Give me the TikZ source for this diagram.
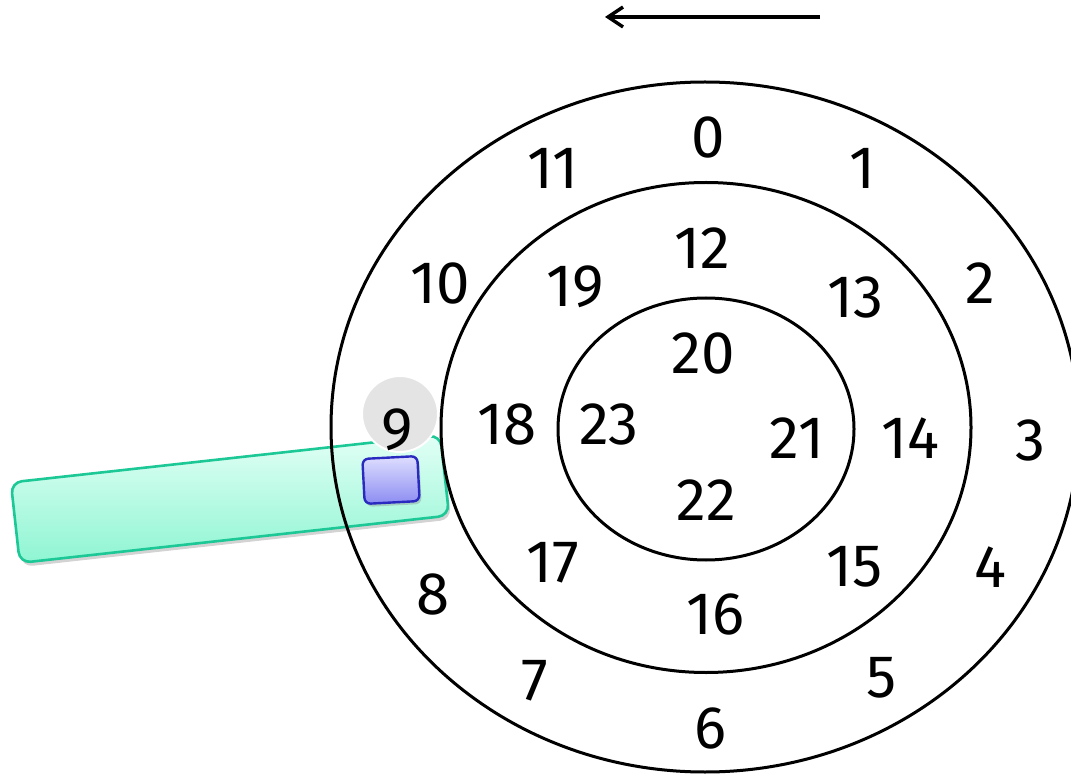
\documentclass[tikz,border=0pt]{standalone}
\usepackage{fontspec}
\setmainfont{Fira Sans}
\usetikzlibrary{arrows.meta,shadows,shapes.geometric}
\definecolor{armedge}{HTML}{1CC896}
\definecolor{armtop}{HTML}{E2FFF6}
\definecolor{armbot}{HTML}{8EF5D2}
\definecolor{sqedge}{HTML}{2A2AC0}
\definecolor{sqtop}{HTML}{DEDEFF}
\definecolor{sqbot}{HTML}{8C8CF2}
\definecolor{headgray}{HTML}{E4E4E4}
\tikzset{
  ring/.style={draw=black,line width=3pt,ellipse,inner sep=0pt},
  num/.style={font=\fontsize{60}{60}\selectfont,inner sep=0pt},
  armbox/.style={draw=armedge,line width=2.6pt,rounded corners=11pt,
    top color=armtop,bottom color=armbot,
    minimum width=432pt,minimum height=81pt,inner sep=0pt,
    drop shadow={opacity=0.35,shadow xshift=2pt,shadow yshift=-4pt}},
  headbox/.style={draw=sqedge,line width=2.4pt,rounded corners=6pt,
    top color=sqtop,bottom color=sqbot,
    minimum width=55pt,minimum height=45pt,inner sep=0pt,
    drop shadow={opacity=0.35,shadow xshift=2pt,shadow yshift=-3pt}},
  spot/.style={circle,fill=headgray,draw=white,line width=2pt,minimum size=76pt,inner sep=0pt},
  dirarrow/.style={line width=3.4pt,-{Straight Barb[length=15pt,width=20pt,line width=3.4pt]}}
}
\begin{document}
\begin{tikzpicture}[x=1pt,y=-1pt]
\useasboundingbox (0,0) rectangle (1071,775);
% arm
\node[armbox,rotate=6.3] (arm) at (230,499) {};
% platters
\node[ring,minimum width=748pt,minimum height=690pt] (outer) at (705,427) {};
\node[ring,minimum width=530pt,minimum height=490pt] (middle) at (706,427.5) {};
\node[ring,minimum width=296pt,minimum height=262pt] (inner) at (706,429) {};
% highlighted sector
\node[spot] (spot) at (400,414) {};
% head
\node[headbox,rotate=3] (head) at (391,480) {};
% direction arrow
\coordinate (astart) at (820,17);
\coordinate (aend) at (605,17);
\draw[dirarrow] (astart) -- (aend);
% outer track
\node[num] (n0) at (708,137) {0};
\node[num] (n1) at (862,168) {1};
\node[num] (n2) at (980,283) {2};
\node[num] (n3) at (1030,440) {3};
\node[num] (n4) at (990,567) {4};
\node[num] (n5) at (882,678) {5};
\node[num] (n6) at (710,728) {6};
\node[num] (n7) at (535,681) {7};
\node[num] (n8) at (433,594) {8};
\node[num] (n9) at (397,430) {9};
\node[num] (n10) at (440,283) {10};
\node[num] (n11) at (553,168) {11};
% middle track
\node[num] (n12) at (702,248) {12};
\node[num] (n13) at (855,297) {13};
\node[num] (n14) at (910,438) {14};
\node[num] (n15) at (855,567) {15};
\node[num] (n16) at (715,614) {16};
\node[num] (n17) at (553,563) {17};
\node[num] (n18) at (507,424) {18};
\node[num] (n19) at (575,287) {19};
% inner track
\node[num] (n20) at (703,353) {20};
\node[num] (n21) at (797,438) {21};
\node[num] (n22) at (706,500) {22};
\node[num] (n23) at (609,424) {23};
\end{tikzpicture}
\end{document}
